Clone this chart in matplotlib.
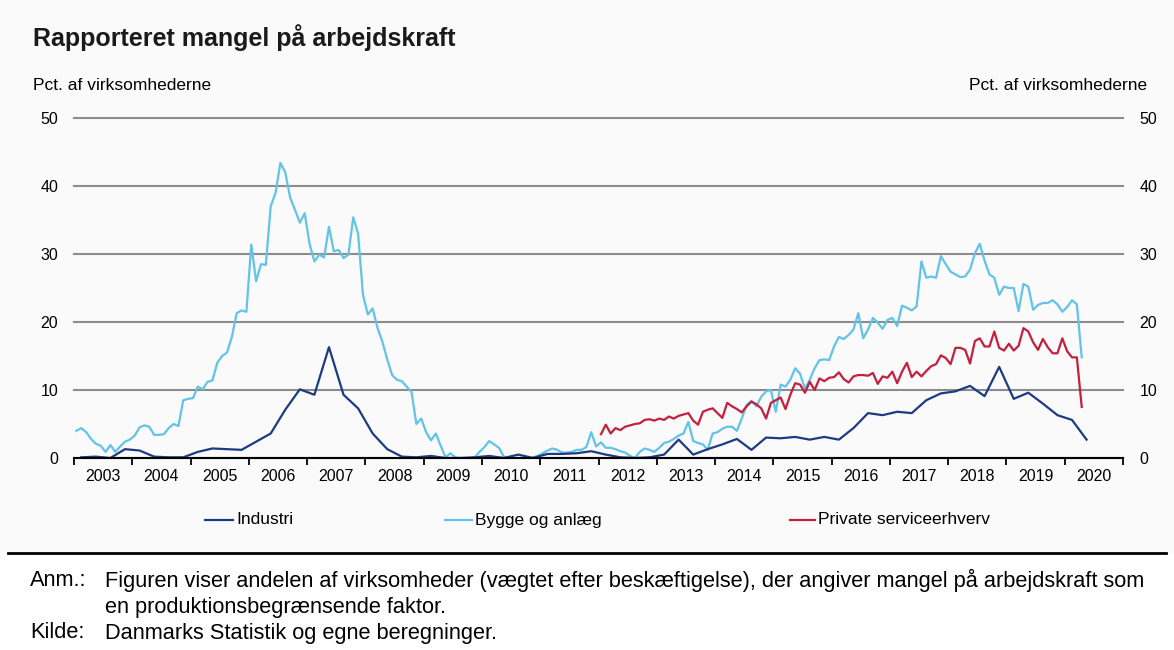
import numpy as np
import matplotlib
matplotlib.use("Agg")
import matplotlib.pyplot as plt
from matplotlib.lines import Line2D
from matplotlib.patches import Rectangle

# ---------------- data ----------------
years = list(range(2003, 2021))
year_labels = [str(y) for y in years]

# Bygge og anlæg, monthly Jan 2003 - Apr 2020
bygge = [
    4.0, 4.4, 3.8, 2.8, 2.1, 1.8, 0.9, 1.9, 0.9, 1.7, 2.4, 2.7,          # 2003
    3.3, 4.5, 4.8, 4.6, 3.4, 3.4, 3.5, 4.4, 5.0, 4.7, 8.5, 8.7,          # 2004
    8.8, 10.5, 10.1, 11.2, 11.4, 14.0, 15.0, 15.5, 17.8, 21.3, 21.7, 21.5,  # 2005
    31.4, 26.0, 28.5, 28.4, 37.0, 39.0, 43.4, 42.0, 38.3, 36.5, 34.6, 36.0,  # 2006
    31.5, 28.9, 29.9, 29.5, 34.0, 30.4, 30.6, 29.4, 29.9, 35.4, 33.0, 24.0,  # 2007
    21.1, 22.0, 19.1, 17.1, 14.5, 12.2, 11.5, 11.3, 10.5, 9.7, 5.0, 5.8,  # 2008
    3.8, 2.6, 3.6, 1.8, 0.1, 0.7, 0.1, 0.0, 0.0, 0.0, 0.1, 0.9,          # 2009
    1.6, 2.5, 2.0, 1.5, 0.2, 0.0, 0.0, 0.0, 0.0, 0.0, 0.1, 0.3,          # 2010
    0.7, 1.1, 1.4, 1.2, 0.8, 0.8, 0.9, 1.2, 1.2, 1.6, 3.8, 1.7,          # 2011
    2.3, 1.5, 1.5, 1.3, 1.0, 0.8, 0.3, 0.0, 0.9, 1.4, 1.2, 0.9,          # 2012
    1.5, 2.2, 2.4, 2.8, 3.3, 3.6, 5.3, 2.5, 2.2, 2.0, 1.2, 3.6,          # 2013
    3.8, 4.3, 4.6, 4.6, 4.0, 5.8, 7.8, 8.4, 7.6, 9.0, 9.8, 10.0,         # 2014
    6.8, 10.8, 10.5, 11.5, 13.2, 12.4, 10.2, 11.5, 13.2, 14.4, 14.5, 14.4,  # 2015
    16.4, 17.8, 17.5, 18.1, 18.9, 21.3, 17.6, 18.9, 20.6, 19.9, 19.0, 20.3,  # 2016
    20.6, 19.4, 22.4, 22.1, 21.7, 22.3, 28.9, 26.5, 26.7, 26.5, 29.7, 28.5,  # 2017
    27.4, 27.0, 26.6, 26.7, 27.7, 30.1, 31.5, 29.0, 27.0, 26.5, 24.0, 25.2,  # 2018
    25.0, 25.0, 21.6, 25.6, 25.2, 21.8, 22.5, 22.8, 22.8, 23.2, 22.6, 21.5,  # 2019
    22.2, 23.2, 22.6, 14.8,                                              # 2020
]

# Private serviceerhverv, monthly Jan 2012 - Apr 2020
private = [
    3.5, 4.9, 3.6, 4.4, 4.1, 4.6, 4.8, 5.0, 5.1, 5.6, 5.7, 5.5,          # 2012
    5.8, 5.6, 6.1, 5.8, 6.2, 6.4, 6.6, 5.5, 4.9, 6.8, 7.1, 7.3,          # 2013
    6.6, 5.9, 8.1, 7.6, 7.2, 6.7, 7.6, 8.3, 7.9, 7.3, 5.8, 8.1,          # 2014
    8.5, 8.9, 7.2, 9.3, 11.0, 10.8, 9.6, 11.2, 10.0, 11.7, 11.3, 11.8,   # 2015
    11.9, 12.6, 11.6, 11.1, 12.0, 12.2, 12.2, 12.1, 12.5, 10.9, 12.0, 11.8,  # 2016
    12.7, 11.0, 12.7, 14.0, 11.9, 12.7, 12.0, 12.8, 13.5, 13.8, 15.1, 14.7,  # 2017
    13.8, 16.2, 16.2, 15.9, 13.9, 17.2, 17.6, 16.4, 16.4, 18.6, 16.2, 15.8,  # 2018
    16.8, 15.8, 16.5, 19.1, 18.6, 17.0, 15.9, 17.5, 16.3, 15.4, 15.4, 17.6,  # 2019
    15.7, 14.8, 14.8, 7.5,                                               # 2020
]
private_start_year = 2012

# Industri, quarterly 2003Q1 - 2020Q2
industri = [
    0.1, 0.2, 0.0, 1.3,    # 2003
    1.1, 0.2, 0.1, 0.1,    # 2004
    0.9, 1.4, 1.3, 1.2,    # 2005
    2.4, 3.6, 7.1, 10.1,   # 2006
    9.3, 16.3, 9.3, 7.3,   # 2007
    3.6, 1.3, 0.2, 0.1,    # 2008
    0.3, 0.0, 0.0, 0.1,    # 2009
    0.3, 0.0, 0.5, 0.0,    # 2010
    0.6, 0.6, 0.7, 1.0,    # 2011
    0.5, 0.1, 0.0, 0.1,    # 2012
    0.5, 2.7, 0.5, 1.3,    # 2013
    2.0, 2.8, 1.2, 3.0,    # 2014
    2.9, 3.1, 2.7, 3.1,    # 2015
    2.7, 4.4, 6.6, 6.3,    # 2016
    6.8, 6.6, 8.5, 9.5,    # 2017
    9.8, 10.6, 9.1, 13.4,  # 2018
    8.7, 9.6, 8.0, 6.3,    # 2019
    5.6, 2.7,              # 2020
]

series_names = ["Industri", "Bygge og anlæg", "Private serviceerhverv"]
colors = ["#1c3b82", "#62c3ea", "#c41f3c"]

# time axes (mid-period)
t_bygge = 2003 + (np.arange(len(bygge)) + 0.5) / 12
t_private = private_start_year + (np.arange(len(private)) + 0.5) / 12
t_industri = 2003 + (np.arange(len(industri)) + 0.5) / 4

# ---------------- figure ----------------
plt.rcParams['font.family'] = ['Liberation Sans', 'DejaVu Sans']
W, H = 1174, 650
fig = plt.figure(figsize=(W / 100, H / 100), dpi=100)
fig.patch.set_facecolor("white")
fig.patches.append(Rectangle((0, (H - 553) / H), 1, 553 / H, transform=fig.transFigure,
                             facecolor="#fafafa", edgecolor="none", zorder=-10))

ax = fig.add_axes([74 / W, (H - 458) / H, (1123 - 74) / W, (458 - 118) / H])
ax.set_facecolor("none")
ax.set_xlim(2003, 2021)
ax.set_ylim(0, 50)
ax.set_yticks([0, 10, 20, 30, 40, 50])
ax.yaxis.grid(True, color="#8c8c8c", lw=1.5, clip_on=False)
ax.set_axisbelow(True)
for s in ["left", "right", "top"]:
    ax.spines[s].set_visible(False)
ax.spines["bottom"].set_color("black")
ax.spines["bottom"].set_linewidth(1.5)
ax.spines["bottom"].set_zorder(5)

ax.tick_params(axis="y", length=0, pad=11.5, labelsize=11.5)
ax.set_xticks(years + [2021])
ax.set_xticklabels([])
ax.set_xticks([y + 0.5 for y in years], minor=True)
ax.set_xticklabels(year_labels, minor=True)
ax.tick_params(axis="x", which="major", length=5, width=1.3, direction="out", color="black")
ax.tick_params(axis="x", which="minor", length=0, pad=8, labelsize=11.5)

ax.plot(t_industri, industri, color=colors[0], lw=1.6, zorder=3)
ax.plot(t_bygge, bygge, color=colors[1], lw=1.6, zorder=2)
ax.plot(t_private, private, color=colors[2], lw=1.6, zorder=4)

ax2 = ax.twinx()
ax2.set_ylim(0, 50)
ax2.set_yticks([0, 10, 20, 30, 40, 50])
ax2.tick_params(axis="y", length=0, pad=12, labelsize=11.5)
for s in ax2.spines.values():
    s.set_visible(False)

# titles and axis captions
fig.text(33 / W, 1 - 38 / H, "Rapporteret mangel på arbejdskraft", fontsize=18,
         fontweight="bold", va="center", ha="left", color="#1a1a1a")
fig.text(33 / W, 1 - 85 / H, "Pct. af virksomhederne", fontsize=12.5, va="center", ha="left")
fig.text(1147 / W, 1 - 85 / H, "Pct. af virksomhederne", fontsize=12.5, va="center", ha="right")

# legend (manual)
leg_y = 1 - 520 / H
leg_pos = [(205, 233), (445, 472), (790, 815)]
for (x0, x1), name, c in zip(leg_pos, series_names, colors):
    fig.add_artist(Line2D([x0 / W, x1 / W], [leg_y, leg_y], color=c, lw=1.6,
                          transform=fig.transFigure))
    fig.text((x1 + 3) / W, leg_y, name, fontsize=12.5, va="center", ha="left")

# footer
fig.add_artist(Line2D([8 / W, 1166 / W], [1 - 553 / H] * 2, color="black", lw=2,
                      transform=fig.transFigure))
fs = 15.7
fig.text(30 / W, 1 - 580 / H, "Anm.:", fontsize=fs, va="center", ha="left")
fig.text(105 / W, 1 - 580 / H,
         "Figuren viser andelen af virksomheder (vægtet efter beskæftigelse), der angiver mangel på arbejdskraft som",
         fontsize=fs, va="center", ha="left")
fig.text(105 / W, 1 - 607 / H, "en produktionsbegrænsende faktor.", fontsize=fs, va="center", ha="left")
fig.text(30 / W, 1 - 633 / H, "Kilde:", fontsize=fs, va="center", ha="left")
fig.text(105 / W, 1 - 633 / H, "Danmarks Statistik og egne beregninger.", fontsize=fs,
         va="center", ha="left")

fig.savefig("out.png", dpi=100, facecolor=fig.get_facecolor())
